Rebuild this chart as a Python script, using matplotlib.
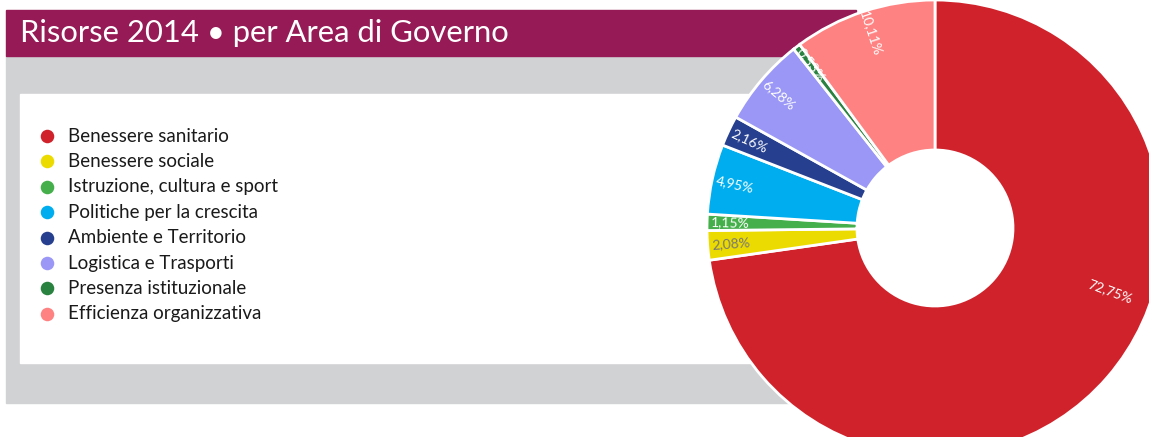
import numpy as np
import matplotlib
matplotlib.use("Agg")
import matplotlib.pyplot as plt
from matplotlib.patches import Rectangle

title = "Risorse 2014 \u2022 per Area di Governo"
categories = ["Benessere sanitario", "Benessere sociale", "Istruzione, cultura e sport",
              "Politiche per la crescita", "Ambiente e Territorio", "Logistica e Trasporti",
              "Presenza istituzionale", "Efficienza organizzativa"]
shares = [72.75, 2.08, 1.15, 4.95, 2.16, 6.28, 0.53, 10.11]
labels = ["72,75%", "2,08%", "1,15%", "4,95%", "2,16%", "6,28%", "0,53%", "10,11%"]
colors = ["#d0222b", "#ecdb00", "#45b04b", "#00aeef", "#263f8e", "#9a97f7", "#2a8240", "#ff8282"]
label_colors = ["white", "#777777", "white", "white", "white", "white", "white", "white"]

W, H = 1149, 437
plt.rcParams['font.family'] = ['Lato', 'DejaVu Sans']

fig = plt.figure(figsize=(W / 100, H / 100), dpi=100)
ax = fig.add_axes([0, 0, 1, 1])

# background blocks (y measured from bottom)
ax.add_patch(Rectangle((6, H - 403), 850, 347, color="#d1d2d4", zorder=0))
ax.add_patch(Rectangle((20, H - 363), 830, 269, color="white", zorder=1))
ax.add_patch(Rectangle((6, H - 56), 850, 46, color="#951a55", zorder=1))
ax.text(20, H - 33, title, color="white", fontsize=22.3, va="center", ha="left", zorder=2)

# legend
for i, (cat, col) in enumerate(zip(categories, colors)):
    y = H - (136 + i * 25.4)
    ax.scatter([47], [y], s=95, color=col, zorder=3, linewidths=0)
    ax.text(68, y, cat, fontsize=13.5, color="#1a1a1a", va="center", ha="left", zorder=3)

# donut
cx, cy, R, r_in = 935, H - 228, 228, 78
wedges, _ = ax.pie(shares, colors=colors, startangle=90, counterclock=False,
                   center=(cx, cy), radius=R,
                   wedgeprops=dict(width=R - r_in, edgecolor="white", linewidth=2))
for w in wedges:
    w.set_zorder(5)

# percentage labels, rotated along the radius
angle_override = {0: -20}
for i, w in enumerate(wedges):
    ang = angle_override.get(i, (w.theta1 + w.theta2) / 2) % 360
    rr = 186 if i in angle_override else 205
    x = cx + rr * np.cos(np.radians(ang))
    y = cy + rr * np.sin(np.radians(ang))
    rot = ang - 180 if 90 < ang < 270 else ang
    ax.text(x, y, labels[i], color=label_colors[i], fontsize=10, rotation=rot,
            rotation_mode="anchor", ha="center", va="center", zorder=6)

ax.set_xlim(0, W)
ax.set_ylim(0, H)
ax.set_aspect("auto")
ax.axis("off")

fig.savefig("out.png", dpi=100)
